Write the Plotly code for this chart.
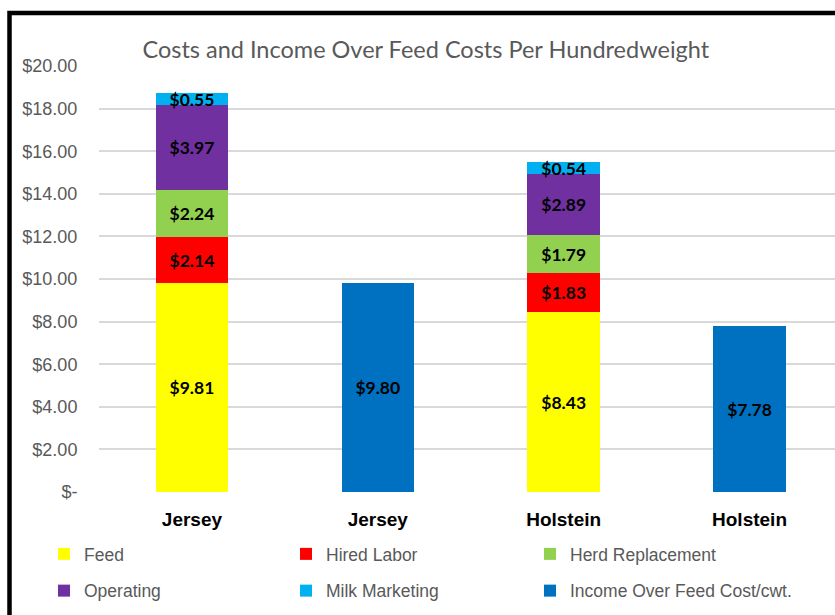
import plotly.graph_objects as go

categories = ["Jersey", "Jersey", "Holstein", "Holstein"]
feed = [9.81, None, 8.43, None]
hired_labor = [2.14, None, 1.83, None]
herd_replacement = [2.24, None, 1.79, None]
operating = [3.97, None, 2.89, None]
milk_marketing = [0.55, None, 0.54, None]
income_over_feed = [None, 9.80, None, 7.78]
y_ticks = [0, 2, 4, 6, 8, 10, 12, 14, 16, 18, 20]
y_tick_labels = ["$-", "$2.00", "$4.00", "$6.00", "$8.00", "$10.00", "$12.00",
                 "$14.00", "$16.00", "$18.00", "$20.00"]

series = [
    ("Feed", feed, "#FFFF00", "legend"),
    ("Hired Labor", hired_labor, "#FF0000", "legend2"),
    ("Herd Replacement", herd_replacement, "#92D050", "legend3"),
    ("Operating", operating, "#7030A0", "legend"),
    ("Milk Marketing", milk_marketing, "#00B0F0", "legend2"),
    ("Income Over Feed Cost/cwt.", income_over_feed, "#0070C0", "legend3"),
]

SANS = "Liberation Sans, Arial, sans-serif"
xpos = list(range(len(categories)))

fig = go.Figure()
for name, vals, color, leg in series:
    fig.add_trace(go.Bar(
        x=xpos, y=vals, name=name, legend=leg, legendgroup=name,
        marker=dict(color=color, line=dict(width=0)),
        width=0.39,
        texttemplate="$%{y:.2f}",
        textposition="inside",
        insidetextanchor="middle",
        textangle=0,
        constraintext="none",
        textfont=dict(family="Lato, sans-serif", size=17.5, color="black", weight="bold"),
        cliponaxis=False,
    ))

legend_common = dict(orientation="v", xanchor="left", yanchor="middle",
                     y=(492 - 572.5) / 426, traceorder="grouped", tracegroupgap=11,
                     font=dict(family=SANS, size=17.5, color="#595959"),
                     bgcolor="rgba(0,0,0,0)")

fig.update_layout(
    width=835, height=615,
    barmode="stack",
    paper_bgcolor="white", plot_bgcolor="white",
    margin=dict(l=99, r=0, t=66, b=123),
    title=dict(text="Costs and Income Over Feed Costs Per Hundredweight",
               font=dict(family="Lato, Open Sans, sans-serif", size=23.5, color="#595959"),
               xref="paper", x=0.444, xanchor="center",
               yref="container", y=1 - 50 / 615, yanchor="middle"),
    xaxis=dict(range=[-0.5, 3.46], tickmode="array", tickvals=xpos, ticktext=categories,
               showgrid=False, zeroline=False, showline=False,
               tickfont=dict(family=SANS, size=19, color="black", weight="bold"),
               ticks="outside", ticklen=10, tickcolor="rgba(0,0,0,0)"),
    yaxis=dict(range=[0, 20], tickmode="array", tickvals=y_ticks, ticktext=y_tick_labels,
               showgrid=True, gridcolor="#D9D9D9", gridwidth=1.5, zeroline=False,
               showline=False,
               tickfont=dict(family=SANS, size=18, color="#595959"),
               ticks="outside", ticklen=17, tickcolor="rgba(0,0,0,0)"),
    legend=dict(x=(44 - 99) / 736, **legend_common),
    legend2=dict(x=(286 - 99) / 736, **legend_common),
    legend3=dict(x=(530 - 99) / 736, **legend_common),
    showlegend=True,
)

# outer black frame (cropped at right and bottom as in the reference)
fig.add_shape(type="rect", xref="paper", yref="paper",
              x0=(9.5 - 99) / 736, x1=1.05, y0=-0.35, y1=(492 - 13) / 426,
              line=dict(color="black", width=4.5), fillcolor="rgba(0,0,0,0)", layer="above")

fig.write_html("out.html", config={"displayModeBar": False},
               post_script="document.body.style.margin='0';")
